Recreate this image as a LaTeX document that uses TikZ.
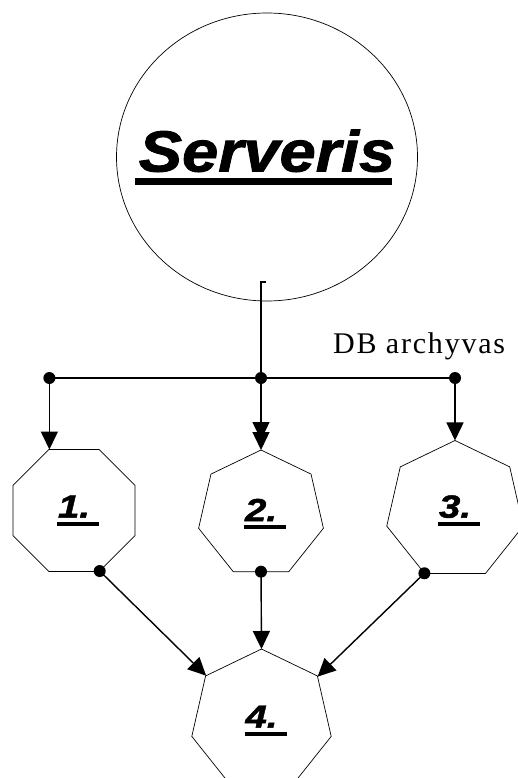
\documentclass[tikz,border=0pt]{standalone}
\usepackage{fontspec}
\setmainfont{Liberation Serif}
\newfontfamily\heavyf{Liberation Sans}[FakeStretch=1.12, BoldItalicFeatures={FakeBold=1.5}]
\newfontfamily\labf{Liberation Sans}[FakeStretch=1.2, BoldItalicFeatures={FakeBold=1.5}]
\usetikzlibrary{shapes.geometric,arrows.meta}
\newcommand\ulab[1]{\makebox[42pt][l]{\rule[-8pt]{42pt}{4pt}\hspace*{-41pt}#1}}
\begin{document}
\begin{tikzpicture}[x=1pt,y=-1pt,
  conn/.style={line width=1.4pt},
  shapeline/.style={draw, line width=0.7pt, inner sep=0pt, outer sep=0pt},
  hept/.style={shapeline, regular polygon, regular polygon sides=7},
  oct/.style={shapeline, regular polygon, regular polygon sides=8},
  lab/.style={font=\labf\bfseries\itshape\fontsize{32}{34}\selectfont},
  dot/.style={circle, fill, inner sep=0pt, minimum size=12pt},
  tip/.style={-{Triangle[length=18pt,width=17pt]}},
  tipdouble/.style={-{Triangle[length=18pt,width=17pt,sep=-8pt]Triangle[length=18pt,width=17pt]}},
]
\useasboundingbox (0,0) rectangle (518,778);
\clip (0,0) rectangle (518,778);

\node[shapeline, ellipse, minimum width=301pt, minimum height=288pt,
      font=\heavyf\bfseries\itshape\fontsize{58}{66}\selectfont] (srv) at (267,157)
  {\makebox[0pt]{\makebox[0pt][l]{\hspace*{-4pt}\rule[-13pt]{257pt}{7pt}}Serveris}};

\node[oct, minimum size=132pt, lab] (n1) at (74,510.5) {\hspace*{8pt}\ulab{1.}};
\node[hept, minimum size=128pt, lab] (n2) at (261,514) {\hspace*{8pt}\ulab{2.}};
\node[hept, minimum size=140pt, lab] (n3) at (455,510.5) {\hspace*{8pt}\ulab{3.}};
\node[hept, minimum size=143pt, lab] (n4) at (261.5,720.5) {\hspace*{8pt}\ulab{4.}};

\node[anchor=base west, inner sep=0pt, font=\fontsize{30}{34}\selectfont\addfontfeature{LetterSpace=6}] (db) at (333,353) {DB archyvas};

\coordinate (busy) at (0,378);
\coordinate (stemy) at (0,282);
\node[dot] (d1) at (n1.112.5 |- busy) {};
\node[dot] (d2) at (n2.north |- busy) {};
\node[dot] (d3) at (n3.north |- busy) {};
\coordinate (stemtop) at (d2 |- stemy);

\node[dot] (e1) at (n1.-67.5) {};
\node[dot] (e2) at (n2.south) {};
\node[dot] (e3) at (n3.244.29) {};

\draw[conn] ([xshift=5pt]stemtop) -- (stemtop) -- (d2.center);
\draw[conn] (d1.center) -- (d3.center);
\draw[conn,tip] (d1.center) -- (n1.112.5);
\draw[conn,tipdouble] (d2.center) -- (n2.north);
\draw[conn,tip] (d3.center) -- (n3.north);
\draw[conn,tip] (e1.center) -- (n4.141.43);
\draw[conn,tip] (e2.center) -- (n4.north);
\draw[conn,tip] (e3.center) -- (n4.38.57);
\end{tikzpicture}
\end{document}
